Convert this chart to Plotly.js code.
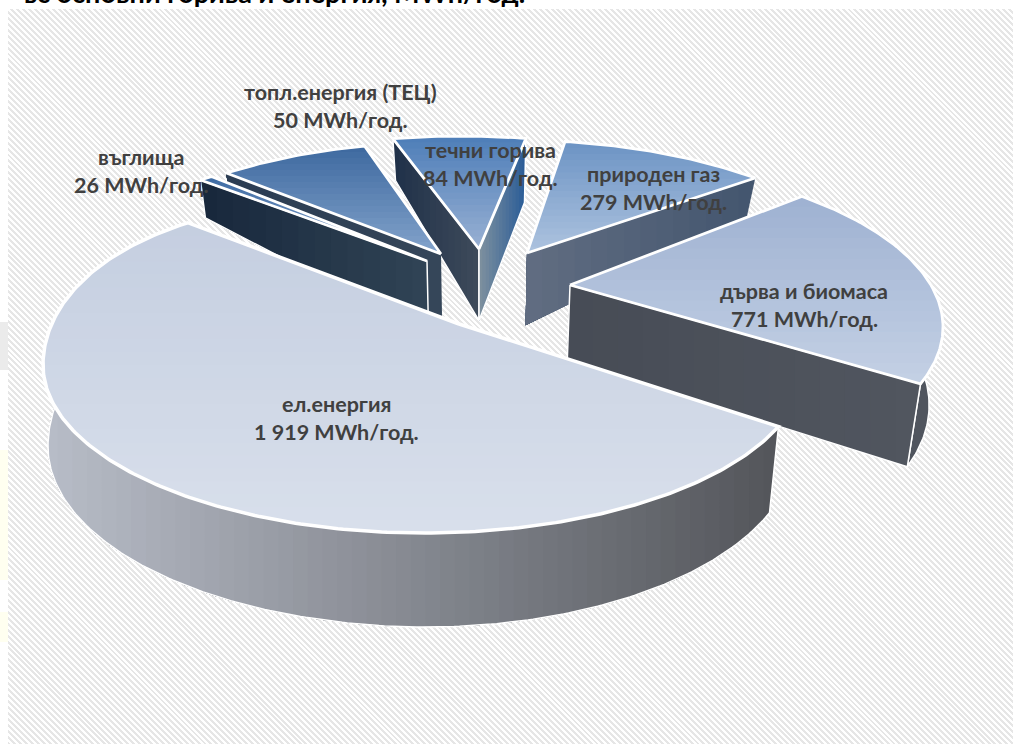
<!DOCTYPE html>
<html><head><meta charset="utf-8">
<script src="https://cdn.plot.ly/plotly-3.0.1.min.js"></script>
<style>
html,body{margin:0;padding:0;background:#fff;overflow:hidden}
#hatch{position:absolute;left:8px;top:9px;width:1005px;height:735px;
background:repeating-linear-gradient(45deg,#e6e6e6 0,#e6e6e6 2.1px,#fff 2.1px,#fff 4.2px)}
#chart{position:absolute;left:0;top:0;width:1013px;height:744px}
</style></head><body>
<div id="hatch"></div><div id="chart"></div>
<script>
// ---- data ----
const categories = ['ел.енергия','дърва и биомаса','природен газ','течни горива','топл.енергия (ТЕЦ)','въглища'];
const valuesMWh  = [1919,771,279,84,50,26];
const unitLabel  = 'MWh/год.';
const clippedTitle = 'ъс основни горива и енергия, MWh/год.';

// ---- perspective / explosion calibration of the 3-D pie ----
const ellipseA = 381, ellipseB = 168;
const centerX = [424,562,514,461,447,427];
const centerY = [365,327,308,304,310,315];
const apexX   = [459,570,527,479,441,427];
const apexY   = [324,285,253,249,254,261];
const startT  = [21.5,-51,-82.3,-100.3,-125.4,-126.5];
const sweepGain = [0.98,0.798,0.984,2.08,3.98,0.67];
const lean    = [47,0,0,0,0,0];
const drawOrder = [3,4,5,2,1,0];
const depthKnotY = [140,180,250,385,533];
const depthKnotD = [42,38,72,83,94];
const farEndDepth = [0,0,0,64,0,0];
const taperX0 = 480, taper = 0.03, taperCap = 5;

// ---- styles ----
const topStops  = [['#c4cee0','#d8dfeb'],['#9db0d1','#c3d0e4'],['#6a92c3','#acc2de'],['#4b7cb7','#97afd2'],['#3b679e','#82a2ca'],['#3b69a2','#8aa6cc']];
const startWall = [null,null,null,['#1e2f48','#3d4a5a'],['#2b3c52','#354659'],['#16263a','#304355']];
const endWall   = [null,['#464b55','#51565f'],['#626e82','#44566f'],['#82939f','#2c5d97'],null,null];
const rimWall   = [['#b9bec9','#54565b'],['#50555e','#50555e'],null,null,null,null];
const wallEdge  = [true,true,false,true,false,true];
const labelPos  = [[336,404],[804,291],[653,174],[490,150],[340,92],[141,157]];
const lineGap = 27.5;

const total = valuesMWh.reduce((a,b)=>a+b,0);
function hex(c){return [1,3,5].map(i=>parseInt(c.slice(i,i+2),16));}
function mix(a,b,f){const A=hex(a),B=hex(b);return 'rgb('+A.map((v,i)=>Math.round(v+(B[i]-v)*f)).join(',')+')';}
function depth(y){
  if(y<=depthKnotY[0])return depthKnotD[0];
  for(let i=1;i<depthKnotY.length;i++) if(y<=depthKnotY[i]){
    const f=(y-depthKnotY[i-1])/(depthKnotY[i]-depthKnotY[i-1]);
    return depthKnotD[i-1]+f*(depthKnotD[i]-depthKnotD[i-1]);
  }
  return depthKnotD[depthKnotD.length-1];
}
function below(p,d){return [p[0]+Math.min((taperX0-p[0])*taper,taperCap),p[1]+(d||depth(p[1]))];}
function rimPoint(i,tDeg){
  const t=tDeg*Math.PI/180,s=Math.sin(t),c=Math.cos(t);
  return [centerX[i]+ellipseA*c-(s<0?lean[i]*s*s:0),centerY[i]+ellipseB*s];
}
function clip(poly,g,level){
  const out=[],d=p=>p[0]*g[0]+p[1]*g[1];
  for(let k=0;k<poly.length;k++){
    const a=poly[k],b=poly[(k+1)%poly.length],da=d(a),db=d(b);
    if(da<=level)out.push(a);
    if((da<=level)!==(db<=level)){const f=(level-da)/(db-da);out.push([a[0]+(b[0]-a[0])*f,a[1]+(b[1]-a[1])*f]);}
  }
  return out;
}
const traces=[];
function addFill(poly,color){
  traces.push({type:'scatter',mode:'none',x:poly.map(p=>p[0]).concat(poly[0][0]),y:poly.map(p=>p[1]).concat(poly[0][1]),
    fill:'toself',fillcolor:color,hoverinfo:'skip',showlegend:false});
}
function gradient(poly,g,stops,n){
  const ds=poly.map(p=>p[0]*g[0]+p[1]*g[1]),lo=Math.min(...ds),hi=Math.max(...ds);
  for(let k=0;k<=n;k++){
    const f=1-k/n,level=lo+(hi-lo)*f;
    const part=k===0?poly:clip(poly,g,level);
    if(part.length>2)addFill(part,mix(stops[0],stops[1],f));
  }
}
function outline(poly,w){
  traces.push({type:'scatter',mode:'lines',x:poly.map(p=>p[0]).concat(poly[0][0]),y:poly.map(p=>p[1]).concat(poly[0][1]),
    line:{color:'#ffffff',width:w},hoverinfo:'skip',showlegend:false});
}
drawOrder.forEach(i=>{
  const sweep=valuesMWh[i]/total*360*sweepGain[i];
  const t0=startT[i],rim=[],N=Math.max(6,Math.round(sweep*1.2));
  for(let k=0;k<=N;k++)rim.push(rimPoint(i,t0+sweep*k/N));
  const apex=[apexX[i],apexY[i]],first=rim[0],last=rim[N];
  if(rimWall[i]){
    const p=rim.concat(rim.slice().reverse().map(q=>below(q)));
    gradient(p,[1,0],rimWall[i],i===0?50:4);
    if(wallEdge[i])outline(p,1.5);
  }
  if(startWall[i]){
    const p=[first,apex,below(apex),below(first)];
    gradient(p,[1,0],startWall[i],14);
    if(wallEdge[i])outline(p,1.5);
  }
  if(endWall[i]){
    const p=[apex,last,below(last,farEndDepth[i]),below(apex)];
    gradient(p,[1,0],endWall[i],14);
    if(wallEdge[i])outline(p,1.5);
  }
  const top=[apex].concat(rim);
  gradient(top,[0,1],topStops[i],i===0?24:18);
  outline(top,i===0?3.5:2.8);
});
const fontStack='Lato, "Noto Sans", "Open Sans", sans-serif';
const annotations=[{x:527,y:11.5,xanchor:'right',yanchor:'bottom',showarrow:false,text:'<b>'+clippedTitle+'</b>',
  font:{family:fontStack,size:27,color:'#000000'}}];
categories.forEach((name,i)=>{
  const v=valuesMWh[i].toString().replace(/\B(?=(\d{3})+$)/g,' ')+' '+unitLabel;
  [name,v].forEach((txt,j)=>annotations.push({x:labelPos[i][0],y:labelPos[i][1]+j*lineGap,xanchor:'center',yanchor:'middle',
    showarrow:false,text:'<b>'+txt+'</b>',font:{family:fontStack,size:21.5,color:'#404040'}}));
});
const stripShapes=[[322,370,'#ebebeb'],[450,580,'#fffff0'],[612,642,'#fffff0']].map(s=>({type:'rect',layer:'below',x0:0,x1:8,y0:s[0],y1:s[1],
  line:{width:0},fillcolor:s[2]}));
Plotly.newPlot('chart',traces,{
  width:1013,height:744,margin:{l:0,r:0,t:0,b:0},showlegend:false,
  paper_bgcolor:'rgba(0,0,0,0)',plot_bgcolor:'rgba(0,0,0,0)',
  xaxis:{range:[0,1013],visible:false,fixedrange:true},
  yaxis:{range:[744,0],visible:false,fixedrange:true},
  shapes:stripShapes,annotations:annotations
},{displayModeBar:false,staticPlot:true});
</script></body></html>
